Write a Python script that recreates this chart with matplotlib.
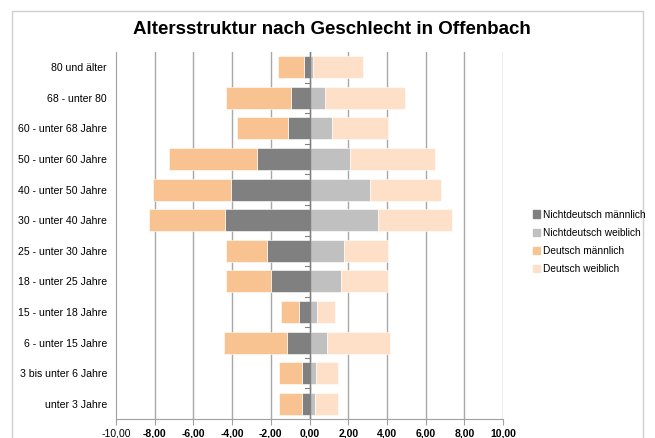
import matplotlib.pyplot as plt
from matplotlib.patches import Patch, Rectangle

plt.rcParams['font.family'] = ['Liberation Sans', 'DejaVu Sans']

ages = ["unter 3 Jahre", "3 bis unter 6 Jahre", "6 - unter 15 Jahre",
        "15 - unter 18 Jahre", "18 - unter 25 Jahre", "25 - unter 30 Jahre",
        "30 - unter 40 Jahre", "40 - unter 50 Jahre", "50 - unter 60 Jahre",
        "60 - unter 68 Jahre", "68 - unter 80", "80 und älter"]

# Anteile in Prozent
nd_maennlich = [0.41, 0.41, 1.14, 0.55, 1.98, 2.21, 4.39, 4.08, 2.70, 1.09, 0.98, 0.26]
d_maennlich = [1.19, 1.17, 3.30, 0.91, 2.36, 2.10, 3.88, 4.02, 4.57, 2.67, 3.33, 1.38]
nd_weiblich = [0.29, 0.34, 0.91, 0.41, 1.64, 1.79, 3.56, 3.14, 2.10, 1.15, 0.80, 0.20]
d_weiblich = [1.17, 1.12, 3.27, 0.93, 2.42, 2.25, 3.79, 3.64, 4.38, 2.89, 4.16, 2.54]

xticks = [-10, -8, -6, -4, -2, 0, 2, 4, 6, 8, 10]

c_ndm = "#808080"
c_ndw = "#c0c0c0"
c_dm = "#f9c291"
c_dw = "#fde0c7"

fig = plt.figure(figsize=(6.55, 4.38), dpi=100)
fig.patches.append(Rectangle((12 / 655, -0.1), 631 / 655, 1.1 - 11 / 438,
                             transform=fig.transFigure, fill=False,
                             edgecolor="#cfcfcf", linewidth=1))
ax = fig.add_axes([116 / 655, 19 / 438, 387 / 655, 367 / 438])

y = list(range(len(ages)))
h = 0.72
neg_ndm = [-v for v in nd_maennlich]
neg_dm = [-v for v in d_maennlich]
ax.barh(y, neg_ndm, height=h, color=c_ndm, edgecolor="white", linewidth=0.4, zorder=3)
ax.barh(y, neg_dm, left=neg_ndm, height=h, color=c_dm, edgecolor="white", linewidth=0.4, zorder=3)
ax.barh(y, nd_weiblich, height=h, color=c_ndw, edgecolor="white", linewidth=0.4, zorder=3)
ax.barh(y, d_weiblich, left=nd_weiblich, height=h, color=c_dw, edgecolor="white", linewidth=0.4, zorder=3)

ax.set_xlim(-10, 10)
ax.set_ylim(-0.5, len(ages) - 0.5)
ax.set_xticks(xticks)
labels = [("%.2f" % v).replace(".", ",") for v in xticks]
ax.set_xticklabels(labels, fontsize=7.5)
for i, t in enumerate(ax.get_xticklabels()):
    if i > 0:
        t.set_fontweight("bold")
ax.set_yticks(y)
ax.set_yticklabels(ages, fontsize=7.6)
ax.tick_params(axis="y", length=0, pad=6.5)
ax.tick_params(axis="x", length=4, color="#a0a0a0", pad=3)

for v in xticks[1:]:
    ax.axvline(v, color="#a8a8a8", linewidth=1, zorder=1)
ax.axvline(0, color="#808080", linewidth=1, zorder=4)
for b in range(1, len(ages)):
    ax.plot([-0.22, 0], [b - 0.5, b - 0.5], color="#808080", linewidth=0.8, zorder=4)

for s in ["top", "right"]:
    ax.spines[s].set_visible(False)
ax.spines["left"].set_color("#a0a0a0")
ax.spines["bottom"].set_color("#a0a0a0")

fig.text(332 / 655, 1 - 29 / 438, "Altersstruktur nach Geschlecht in Offenbach",
         ha="center", va="center", fontsize=13.5, fontweight="bold")

handles = [Patch(color=c_ndm, label="Nichtdeutsch männlich"),
           Patch(color=c_ndw, label="Nichtdeutsch weiblich"),
           Patch(color=c_dm, label="Deutsch männlich"),
           Patch(color=c_dw, label="Deutsch weiblich")]
fig.legend(handles=handles, loc="center left", bbox_to_anchor=(528 / 655, 1 - 242 / 438),
           frameon=False, fontsize=7.3, handlelength=0.7, handleheight=0.7,
           handletextpad=0.25, labelspacing=0.82, borderpad=0)

fig.savefig("out.png", dpi=100)
